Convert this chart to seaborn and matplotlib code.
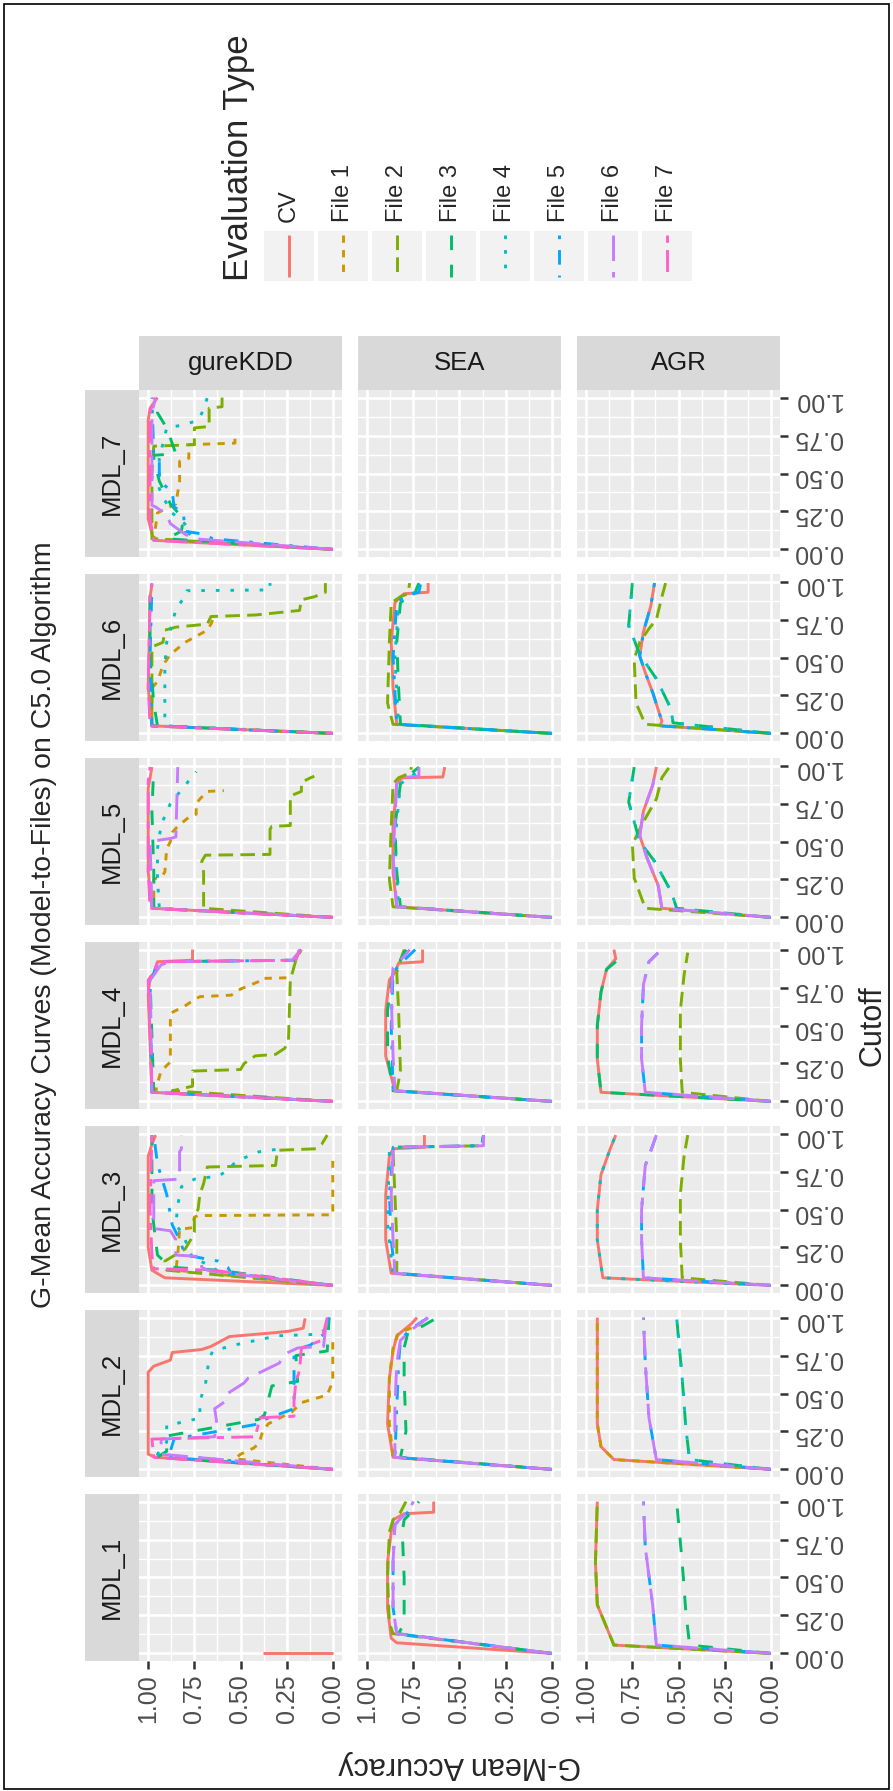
import matplotlib
matplotlib.use("Agg")
import pandas as pd
import seaborn as sns
import matplotlib.pyplot as plt
from matplotlib.patches import Rectangle
from matplotlib.ticker import FormatStrFormatter

# ---------------------------------------------------------------- data
SERIES = ["CV", "File 1", "File 2", "File 3", "File 4", "File 5", "File 6", "File 7"]
COLORS = ["#F8766D", "#CD9600", "#7CAE00", "#00BE67", "#00BFC4", "#00A9FF", "#C77CFF", "#FF61CC"]
DATASETS = ["gureKDD", "SEA", "AGR"]
MODELS = ["MDL_7", "MDL_6", "MDL_5", "MDL_4", "MDL_3", "MDL_2", "MDL_1"]
TICKS = [0.0, 0.25, 0.5, 0.75, 1.0]
MINOR = [0.125, 0.375, 0.625, 0.875]

# each entry: series -> (cutoffs, g-mean accuracy)
KDD7 = {
    "CV": ([0, .06, .2, .85, .93, 1.0], [0, .97, 1.0, 1.0, .99, .95]),
    "File 1": ([0, .07, .15, .24, .26, .30, .45, .58, .60, .69, .70, .77],
               [0, .97, .96, .95, .92, .85, .83, .83, .78, .78, .53, .53]),
    "File 2": ([0, .07, .5, .68, .69, .80, .81, .93, .94, 1.0],
               [0, .98, .98, .97, .75, .75, .67, .67, .60, .60]),
    "File 3": ([0, .07, .12, .2, .3, .45, .6, .62, .63, .8, .9, 1.0],
               [0, .90, .82, .81, .88, .94, .97, .97, .85, .90, .95, .95]),
    "File 4": ([0, .06, .12, .2, .25, .4, .6, .7, .8, .82, .85, .92, 1.0],
               [0, .82, .76, .83, .88, .94, .94, .92, .90, .81, .73, .70, .68]),
    "File 5": ([0, .07, .1, .12, .24, .28, .38, .45, .58, .62, 1.0],
               [0, .65, .70, .80, .81, .86, .87, .94, .94, .97, .98]),
    "File 6": ([0, .07, .1, .17, .23, .28, .29, .9, .95, 1.0],
               [0, .75, .80, .88, .90, .96, .98, .98, .97, .96]),
    "File 7": ([0, .06, .2, .9, 1.0], [0, .97, .99, .99, .97]),
}
SEA7 = {}
AGR7 = {}

KDD6 = {
    "CV": ([0, .05, .3, .9, .98], [0, .98, 1.0, .99, .98]),
    "File 1": ([0, .05, .30, .34, .45, .52, .60, .68, .72, .75],
               [0, .98, .98, .95, .92, .88, .80, .68, .66, .65]),
    "File 2": ([0, .05, .36, .57, .6, .68, .70, .72, .77, .78, .81, .88, .90, .93, .99],
               [0, .98, .98, .98, .92, .91, .85, .68, .66, .42, .18, .17, .10, .04, .04]),
    "File 3": ([0, .05, .2, .5, .9, .98], [0, .95, .97, .99, .99, .98]),
    "File 4": ([0, .05, .1, .45, .6, .72, .82, .92, .94, .945, .99],
               [0, .90, .91, .91, .90, .87, .85, .79, .79, .34, .34]),
    "File 5": ([0, .05, .5, .98], [0, .98, .99, .98]),
    "File 7": ([0, .05, .3, .9, .99], [0, .99, 1.0, .99, .98]),
}
SEA6 = {
    "CV": ([0, .06, .3, .6, .86, .90, .92, .93, .99], [0, .84, .86, .87, .85, .82, .80, .67, .67]),
    "File 2": ([0, .06, .2, .6, .86, .90, .92, .99], [0, .86, .89, .88, .87, .82, .78, .77]),
    "File 3": ([0, .06, .3, .6, .86, .90, .93, .99], [0, .82, .83, .84, .82, .78, .74, .72]),
    "File 4": ([0, .06, .5, .86, .90, .93, .99], [0, .83, .85, .83, .79, .74, .73]),
    "File 5": ([0, .06, .5, .86, .90, .93, .99], [0, .84, .86, .84, .80, .72, .71]),
}
AGR6 = {
    "CV": ([0, .05, .08, .27, .4, .51, .67, .84, .99], [0, .60, .59, .64, .68, .71, .69, .65, .63]),
    "File 2": ([0, .06, .2, .49, .6, .69, .75, .9, .99], [0, .68, .73, .74, .71, .66, .62, .59, .57]),
    "File 3": ([0, .07, .16, .36, .52, .71, .85, .99], [0, .53, .54, .62, .71, .77, .76, .75]),
    "File 4": ([0, .07, .16, .36, .52, .71, .85, .99], [0, .53, .54, .62, .71, .77, .76, .75]),
    "File 5": ([0, .05, .08, .27, .4, .51, .67, .84, .99], [0, .60, .59, .64, .68, .71, .69, .65, .63]),
}

KDD5 = {
    "CV": ([0, .06, .3, .85, .92, .99], [0, .98, 1.0, 1.0, .99, .98]),
    "File 1": ([0, .06, .25, .28, .3, .45, .5, .56, .6, .66, .68, .75, .78, .83, .835],
               [0, .97, .97, .92, .91, .90, .88, .87, .84, .78, .74, .74, .72, .68, .59]),
    "File 2": ([0, .06, .3, .37, .41, .415, .58, .60, .605, .80, .83, .89, .92, .93],
               [0, .70, .70, .71, .69, .34, .34, .33, .23, .23, .17, .17, .12, .10]),
    "File 3": ([0, .06, .3, .7, .99], [0, .97, .97, .98, .97]),
    "File 4": ([0, .06, .26, .45, .61, .75, .96], [0, .94, .95, .95, .93, .88, .74]),
    "File 6": ([0, .06, .5, .52, .53, .99], [0, .98, .99, .88, .85, .84]),
    "File 7": ([0, .06, .3, .9, .99], [0, .99, 1.0, 1.0, .99]),
}
SEA5 = {
    "CV": ([0, .07, .3, .6, .88, .92, .925, .99], [0, .84, .86, .86, .84, .81, .59, .58]),
    "File 2": ([0, .07, .25, .6, .88, .92, .95, .99], [0, .86, .88, .87, .86, .83, .77, .76]),
    "File 3": ([0, .07, .3, .6, .88, .93, .99], [0, .82, .84, .85, .82, .78, .72]),
    "File 4": ([0, .07, .5, .88, .93, .99], [0, .83, .85, .82, .76, .70]),
    "File 6": ([0, .07, .4, .88, .92, .93, .99], [0, .84, .86, .84, .82, .72, .72]),
}
AGR5 = {
    "CV": ([0, .06, .21, .39, .54, .70, .87, .99], [0, .59, .61, .67, .71, .69, .64, .62]),
    "File 2": ([0, .06, .26, .48, .63, .78, .92, .99], [0, .68, .74, .75, .69, .62, .59, .55]),
    "File 3": ([0, .06, .17, .37, .5, .76, .99], [0, .51, .54, .63, .71, .77, .74]),
    "File 4": ([0, .06, .17, .37, .5, .76, .99], [0, .51, .54, .63, .71, .77, .74]),
    "File 6": ([0, .06, .21, .39, .54, .70, .87, .99], [0, .59, .61, .67, .71, .69, .64, .62]),
}

KDD4 = {
    "CV": ([0, .06, .7, .82, .85, .92, .93, 1.0], [0, .98, 1.0, .99, .96, .95, .76, .76]),
    "File 1": ([0, .06, .12, .2, .26, .58, .63, .67, .69, .70, .74, .79, .81, .815],
               [0, .96, .95, .93, .88, .88, .80, .75, .72, .55, .50, .40, .39, .22]),
    "File 2": ([0, .07, .1, .2, .21, .25, .3, .31, .35, .4, .8, .93, 1.0],
               [0, .87, .76, .76, .50, .48, .42, .31, .26, .24, .23, .20, .17]),
    "File 3": ([0, .06, .8, .84, .92, .93, 1.0], [0, .97, .99, .97, .95, .21, .18]),
    "File 5": ([0, .06, .8, .84, .92, .93, 1.0], [0, .98, .99, .97, .95, .20, .18]),
    "File 6": ([0, .06, .8, .9, .92, .93, .96, 1.0], [0, .98, .99, .93, .88, .22, .20, .17]),
    "File 7": ([0, .06, .8, .84, .92, .93, 1.0], [0, .98, 1.0, .97, .95, .20, .18]),
}
SEA4 = {
    "CV": ([0, .07, .3, .6, .8, .85, .91, .92, 1.0], [0, .85, .90, .90, .88, .85, .83, .70, .70]),
    "File 2": ([0, .07, .2, .6, .85, .93, 1.0], [0, .84, .82, .83, .84, .82, .80]),
    "File 3": ([0, .07, .3, .6, .85, .93, 1.0], [0, .86, .89, .89, .86, .82, .79]),
    "File 5": ([0, .07, .5, .85, .93, 1.0], [0, .86, .87, .86, .80, .74]),
    "File 6": ([0, .07, .3, .7, .88, .93, .97, 1.0], [0, .85, .86, .87, .86, .82, .79, .77]),
}
AGR4 = {
    "CV": ([0, .06, .28, .5, .72, .87, .94, 1.0], [0, .92, .94, .94, .92, .89, .84, .85]),
    "File 2": ([0, .06, .28, .6, .83, .98], [0, .48, .49, .49, .47, .45]),
    "File 3": ([0, .06, .28, .5, .72, .87, .94], [0, .92, .94, .94, .92, .89, .82]),
    "File 5": ([0, .06, .28, .5, .77, .92, .98], [0, .68, .70, .70, .69, .66, .61]),
    "File 6": ([0, .06, .28, .5, .77, .92, .98], [0, .68, .70, .70, .69, .66, .61]),
}

KDD3 = {
    "CV": ([0, .05, .1, .25, .85, .93, .99], [0, .91, .98, 1.0, 1.0, .98, .96]),
    "File 1": ([0, .1, .2, .37, .38, .45, .46, .465, .82], [0, .85, .84, .83, .76, .75, .73, 0.0, 0.0]),
    "File 2": ([0, .1, .16, .24, .3, .35, .46, .5, .6, .67, .78, .79, .89, .9, .93, .99],
               [0, .90, .91, .80, .77, .75, .75, .73, .72, .70, .68, .31, .30, .09, .06, .03]),
    "File 3": ([0, .10, .12, .2, .5, .99], [0, .62, .88, .95, .98, .98]),
    "File 4": ([0, .08, .15, .18, .3, .35, .4, .53, .65, .7, .72, .75, .82, .88, .9, .92],
               [0, .60, .70, .76, .80, .82, .85, .84, .82, .75, .62, .58, .52, .40, .28, .26]),
    "File 5": ([0, .08, .12, .16, .2, .3, .4, .6, .8, .99], [0, .55, .57, .62, .80, .83, .87, .90, .95, .97]),
    "File 6": ([0, .08, .1, .12, .19, .2, .3, .36, .375, .69, .70, .88, .9, .99],
               [0, .58, .68, .71, .72, .85, .85, .88, .97, .97, .83, .83, .82, .82]),
    "File 7": ([0, .1, .11, .2, .5, .99], [0, .65, .97, .98, .99, .98]),
}
SEA3 = {
    "CV": ([0, .08, .3, .6, .85, .90, .91, .99], [0, .87, .90, .90, .88, .86, .69, .69]),
    "File 2": ([0, .08, .3, .6, .88, .91, .92, .99], [0, .84, .84, .85, .86, .84, .38, .37]),
    "File 4": ([0, .08, .4, .88, .91, .92, .99], [0, .86, .89, .88, .86, .40, .36]),
    "File 5": ([0, .08, .3, .6, .88, .91, .92, .99], [0, .85, .87, .88, .86, .86, .38, .37]),
    "File 6": ([0, .08, .3, .6, .88, .91, .92, .99], [0, .85, .86, .87, .86, .85, .37, .37]),
}
AGR3 = {
    "CV": ([0, .05, .3, .5, .73, .9, .99], [0, .91, .94, .94, .92, .87, .84]),
    "File 2": ([0, .05, .3, .6, .85, .99], [0, .48, .49, .49, .47, .45]),
    "File 4": ([0, .05, .3, .5, .73, .9, .99], [0, .91, .94, .94, .92, .87, .84]),
    "File 5": ([0, .05, .3, .5, .79, .92, .99], [0, .69, .70, .70, .68, .64, .62]),
    "File 6": ([0, .05, .3, .5, .79, .92, .99], [0, .69, .70, .70, .68, .64, .62]),
}

KDD2 = {
    "CV": ([0, .08, .1, .64, .68, .72, .77, .79, .81, .875, .90, .91, .93, .995],
           [0, .96, 1.0, 1.0, .97, .88, .87, .71, .66, .56, .32, .24, .16, .15]),
    "File 1": ([0, .07, .1, .14, .17, .25, .3, .38, .44, .49, .58, .84],
               [0, .53, .50, .43, .40, .38, .35, .22, .17, .03, 0.0, 0.0]),
    "File 3": ([0, .08, .12, .22, .33, .36, .55, .58, .75, .78, 1.0],
               [0, .95, .90, .90, .40, .37, .33, .19, .20, .03, .02]),
    "File 4": ([0, .1, .18, .29, .32, .34, .45, .56, .73, .78, .82, .88, .89, .93, 1.0],
               [0, .95, .90, .90, .78, .72, .72, .69, .67, .65, .53, .30, .08, .03, .02]),
    "File 5": ([0, .08, .12, .2, .3, .32, .4, .78, .82, .9, 1.0],
               [0, .90, .88, .86, .40, .39, .21, .21, .12, .04, .02]),
    "File 6": ([0, .1, .2, .215, .32, .4, .45, .5, .57, .6, .7, .76, .8, .81, .92, 1.0],
               [0, .93, .93, .64, .63, .64, .58, .57, .48, .46, .29, .26, .19, .05, .04, .03]),
    "File 7": ([0, .08, .2, .215, .31, .34, .35, .45, .58, .65, .8, .85, 1.0],
               [0, .97, .98, .42, .40, .40, .21, .21, .20, .18, .17, .06, .03]),
}
SEA2 = {
    "CV": ([0, .08, .3, .6, .78, .88, .92, .96, 1.0], [0, .86, .89, .88, .86, .84, .80, .76, .73]),
    "File 1": ([0, .08, .3, .6, .8, .9, .95, 1.0], [0, .86, .88, .88, .86, .83, .72, .68]),
    "File 3": ([0, .08, .25, .6, .8, .9, .93, 1.0], [0, .82, .79, .80, .80, .78, .72, .62]),
    "File 5": ([0, .08, .4, .7, .85, .92, 1.0], [0, .85, .84, .83, .82, .77, .67]),
    "File 6": ([0, .08, .4, .7, .85, .92, 1.0], [0, .85, .85, .84, .82, .76, .67]),
}
AGR2 = {
    "CV": ([0, .065, .15, .3, .6, 1.0], [0, .85, .92, .94, .94, .94]),
    "File 1": ([0, .065, .15, .3, .6, 1.0], [0, .85, .92, .94, .94, .94]),
    "File 3": ([0, .065, .27, .6, 1.0], [0, .44, .46, .48, .51]),
    "File 4": ([0, .065, .27, .6, 1.0], [0, .44, .46, .48, .51]),
    "File 5": ([0, .065, .34, .7, 1.0], [0, .62, .66, .68, .69]),
    "File 6": ([0, .065, .34, .7, 1.0], [0, .62, .66, .68, .69]),
}

KDD1 = {
    "CV": ([0, 0], [0.38, 0.0]),
}
SEA1 = {
    "CV": ([0, .07, .1, .3, .6, .8, .88, .92, .93, 1.0], [0, .84, .87, .89, .89, .87, .86, .80, .64, .64]),
    "File 2": ([0, .13, .2, .5, .8, .88, .93, 1.0], [0, .86, .88, .89, .88, .86, .82, .79]),
    "File 3": ([0, .13, .2, .5, .8, .88, .93, 1.0], [0, .83, .80, .80, .81, .80, .76, .72]),
    "File 5": ([0, .13, .3, .6, .85, .9, .93, 1.0], [0, .84, .86, .86, .85, .80, .78, .75]),
    "File 6": ([0, .13, .3, .6, .85, .9, .93, 1.0], [0, .84, .86, .86, .85, .81, .78, .75]),
}
AGR1 = {
    "CV": ([0, .055, .32, .6, 1.0], [0, .85, .94, .95, .94]),
    "File 2": ([0, .055, .32, .6, 1.0], [0, .85, .94, .95, .94]),
    "File 3": ([0, .055, .27, .6, 1.0], [0, .44, .46, .48, .51]),
    "File 5": ([0, .055, .32, .7, 1.0], [0, .62, .64, .68, .69]),
    "File 6": ([0, .055, .32, .7, 1.0], [0, .62, .64, .68, .69]),
}

PANELS = {
    "MDL_7": [KDD7, SEA7, AGR7],
    "MDL_6": [KDD6, SEA6, AGR6],
    "MDL_5": [KDD5, SEA5, AGR5],
    "MDL_4": [KDD4, SEA4, AGR4],
    "MDL_3": [KDD3, SEA3, AGR3],
    "MDL_2": [KDD2, SEA2, AGR2],
    "MDL_1": [KDD1, SEA1, AGR1],
}

# ---------------------------------------------------------------- style
# ggplot2 default linetypes, a bit stretched
DASHES = ["", (2.5, 2.5), (5, 2.5), (5, 5), (1.25, 3.75), (1.25, 3.75, 5, 3.75),
          (8.75, 3.75), (2.5, 2.5, 7.5, 2.5)]
PALETTE = dict(zip(SERIES, COLORS))
DASH_MAP = dict(zip(SERIES, DASHES))
LW = 2.1

W, H = 893, 1791
COL_X = [(139, 342), (358, 561), (577, 780)]
ROW_TOP = [390, 574, 758, 942, 1126, 1310, 1494]
PANEL_H = 167
STRIP = 54
TEXT_GREY = "#4D4D4D"


def px_rect(x0, y0, x1, y1):
    return [x0 / W, 1 - y1 / H, (x1 - x0) / W, (y1 - y0) / H]


def panel_frame(d):
    rows = []
    for name, (cut, acc) in d.items():
        for c, a in zip(cut, acc):
            rows.append({"Evaluation Type": name, "Cutoff": c, "Accuracy": a})
    return pd.DataFrame(rows)


def draw_panel(ax, d, bottom, right):
    ax.set_facecolor("#EBEBEB")
    for s in ax.spines.values():
        s.set_visible(False)

    if d:
        df = panel_frame(d)
        order = [s for s in SERIES if s in d]
        sns.lineplot(data=df, x="Accuracy", y="Cutoff", hue="Evaluation Type",
                     style="Evaluation Type", hue_order=order, style_order=order,
                     palette=PALETTE, dashes=DASH_MAP, estimator=None, sort=False,
                     linewidth=LW, legend=False, ax=ax)
        for line in ax.lines:
            line.set_dash_capstyle("butt")
            line.set_solid_capstyle("butt")

    ax.set_xlim(1.05, -0.05)
    ax.set_ylim(-0.05, 1.05)
    ax.set_xticks(TICKS)
    ax.set_yticks(TICKS)
    ax.set_xticks(MINOR, minor=True)
    ax.set_yticks(MINOR, minor=True)
    ax.grid(which="major", color="white", linewidth=1.9)
    ax.grid(which="minor", color="white", linewidth=0.95)
    ax.set_axisbelow(True)
    ax.set_xlabel("")
    ax.set_ylabel("")
    ax.xaxis.set_major_formatter(FormatStrFormatter("%.2f"))
    ax.yaxis.set_major_formatter(FormatStrFormatter("%.2f"))
    ax.tick_params(which="minor", length=0)
    ax.tick_params(which="major", length=5.5, width=1.8, color="#333333",
                   labelcolor=TEXT_GREY, labelsize=18, pad=4)
    ax.tick_params(axis="x", bottom=bottom, labelbottom=bottom, top=False,
                   labeltop=False, labelrotation=90)
    ax.tick_params(axis="y", left=False, labelleft=False, right=right,
                   labelright=right, labelrotation=180)


def strip_axes(rect, label, rotation):
    sax = fig.add_axes(rect)
    sax.set_facecolor("#D9D9D9")
    sax.set_xticks([])
    sax.set_yticks([])
    for s in sax.spines.values():
        s.set_visible(False)
    sax.text(0.5, 0.5, label, rotation=rotation, ha="center", va="center",
             fontsize=18.5, color="#1A1A1A", transform=sax.transAxes)


# ---------------------------------------------------------------- figure
sns.set_theme(style="white")
plt.rcParams["font.family"] = ["Liberation Sans", "DejaVu Sans"]

fig = plt.figure(figsize=(W / 100, H / 100), dpi=100)

for ri, model in enumerate(MODELS):
    top = ROW_TOP[ri]
    for ci, ds in enumerate(DATASETS):
        x0, x1 = COL_X[ci]
        ax = fig.add_axes(px_rect(x0, top, x1, top + PANEL_H))
        draw_panel(ax, PANELS[model][ci], bottom=(ri == len(MODELS) - 1), right=(ci == 2))
    # model strip on the left
    strip_axes(px_rect(COL_X[0][0] - STRIP, top, COL_X[0][0], top + PANEL_H), model, 90)

# dataset strips on top
for ci, ds in enumerate(DATASETS):
    x0, x1 = COL_X[ci]
    strip_axes(px_rect(x0, ROW_TOP[0] - STRIP, x1, ROW_TOP[0]), ds, 0)

# titles
fig.text(44 / W, 1 - 925 / H, "G-Mean Accuracy Curves (Model-to-Files) on C5.0 Algorithm",
         rotation=90, ha="center", va="center", fontsize=20.5)
fig.text((COL_X[0][0] + COL_X[2][1]) / 2 / W, 1 - 1765 / H, "G-Mean Accuracy",
         rotation=180, ha="center", va="center", fontsize=22)
fig.text(872 / W, 1 - (ROW_TOP[0] + ROW_TOP[-1] + PANEL_H) / 2 / H, "Cutoff",
         rotation=90, ha="center", va="center", fontsize=22)

# legend
fig.text(238 / W, 1 - 281 / H, "Evaluation Type", rotation=90, ha="left",
         va="center", rotation_mode="anchor", fontsize=25)
for i, name in enumerate(SERIES):
    kx = 264 + 54 * i
    kax = fig.add_axes(px_rect(kx, 231, kx + 50, 281))
    kax.set_facecolor("#F2F2F2")
    kax.set_xlim(0, 1)
    kax.set_ylim(0, 1)
    kax.set_xticks([])
    kax.set_yticks([])
    for s in kax.spines.values():
        s.set_visible(False)
    ln, = kax.plot([0.5, 0.5], [0.92, 0.08], color=PALETTE[name], linewidth=LW,
                   solid_capstyle="butt", dash_capstyle="butt")
    if DASH_MAP[name]:
        ln.set_dashes(DASH_MAP[name])
    fig.text((kx + 25) / W, 1 - 222 / H, name, rotation=90, ha="left", va="center",
             rotation_mode="anchor", fontsize=17)

# outer frame
fig.add_artist(Rectangle((4 / W, 2 / H), 885 / W, 1785 / H, transform=fig.transFigure,
                         fill=False, edgecolor="black", linewidth=1.2))

fig.savefig("out.png", dpi=100)
